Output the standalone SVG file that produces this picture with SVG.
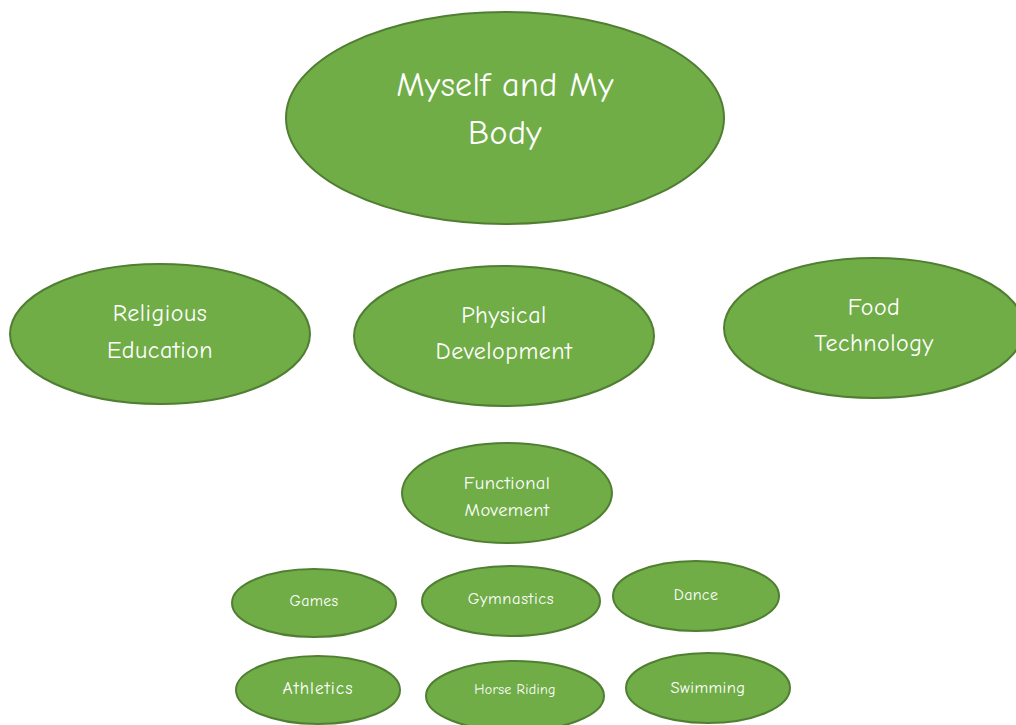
<svg xmlns="http://www.w3.org/2000/svg" width="1016" height="725" viewBox="0 0 1016 725">
<style>
.n{fill:#70AD47;stroke:#507E32;stroke-width:2}
text{fill:#fff;font-family:"Comic Sans MS","Comic Neue","Open Sans",sans-serif;text-anchor:middle}
.big{font-size:34px;letter-spacing:0.4px}
.mid{font-size:24px;letter-spacing:0.5px}
.fm{font-size:18.5px;letter-spacing:0.4px}
.sm{font-size:16px;letter-spacing:0.3px}
</style>
<rect width="1016" height="725" fill="#fff"/>
<g id="connectors"></g>
<g id="n-myself"><ellipse class="n" cx="505" cy="118" rx="219" ry="106"/><text class="big"><tspan x="505" y="96">Myself and My</tspan><tspan x="505" y="144">Body</tspan></text></g>
<g id="n-religious"><ellipse class="n" cx="160" cy="334" rx="150" ry="70"/><text class="mid"><tspan x="160" y="321">Religious</tspan><tspan x="160" y="358">Education</tspan></text></g>
<g id="n-physical"><ellipse class="n" cx="504" cy="336" rx="150" ry="70"/><text class="mid"><tspan x="504" y="323">Physical</tspan><tspan x="504" y="359">Development</tspan></text></g>
<g id="n-food"><ellipse class="n" cx="874" cy="328" rx="150" ry="70"/><text class="mid"><tspan x="874" y="315">Food</tspan><tspan x="874" y="351">Technology</tspan></text></g>
<g id="n-functional"><ellipse class="n" cx="507" cy="493" rx="105" ry="50"/><text class="fm"><tspan x="507" y="489">Functional</tspan><tspan x="507" y="516">Movement</tspan></text></g>
<g id="n-games"><ellipse class="n" cx="314" cy="603" rx="82" ry="34"/><text class="sm" x="314" y="606">Games</text></g>
<g id="n-gymnastics"><ellipse class="n" cx="511" cy="601" rx="89" ry="35"/><text class="sm" x="511" y="604" style="font-size:16.5px;letter-spacing:0.6px">Gymnastics</text></g>
<g id="n-dance"><ellipse class="n" cx="696" cy="596" rx="83" ry="35"/><text class="sm" x="696" y="600">Dance</text></g>
<g id="n-athletics"><ellipse class="n" cx="318" cy="690" rx="82" ry="34"/><text class="sm" x="318" y="694" style="font-size:17.5px;letter-spacing:1px">Athletics</text></g>
<g id="n-horse"><ellipse class="n" cx="515" cy="696" rx="89" ry="35"/><text x="515" y="694" style="font-size:14px;letter-spacing:0.3px">Horse Riding</text></g>
<g id="n-swimming"><ellipse class="n" cx="708" cy="688" rx="82" ry="35"/><text class="sm" x="708" y="693" style="font-size:16.5px;letter-spacing:0.4px">Swimming</text></g>
</svg>
